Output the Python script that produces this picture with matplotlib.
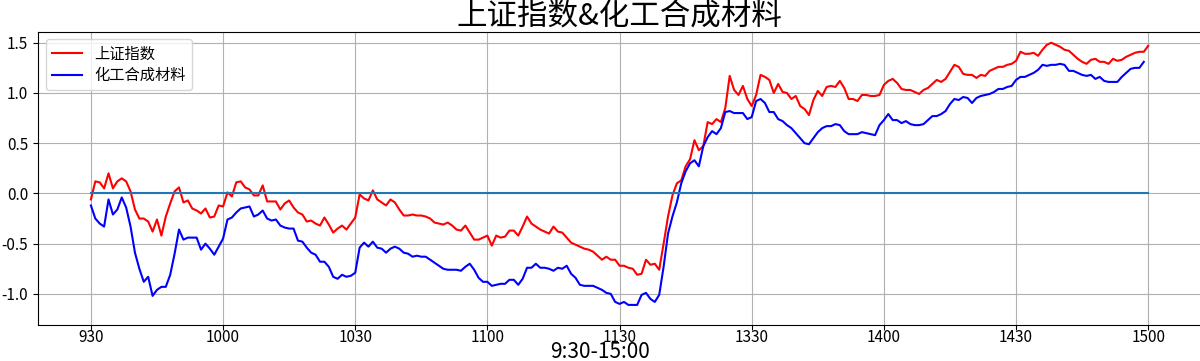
import numpy as np
import matplotlib
matplotlib.use("Agg")
import matplotlib.pyplot as plt

plt.rcParams['font.family'] = ['Noto Sans CJK SC', 'DejaVu Sans']
plt.rcParams['axes.unicode_minus'] = False

# === 1. Dados (variação % minuto a minuto, 9:30-15:00) ===
sh_index = [
    -0.06, 0.12, 0.11, 0.05, 0.20, 0.05, 0.12, 0.15, 0.12, 0.02,
    -0.16, -0.25, -0.25, -0.28, -0.38, -0.26, -0.42, -0.23, -0.10, 0.02,
    0.06, -0.09, -0.07, -0.15, -0.17, -0.20, -0.15, -0.24, -0.23, -0.12,
    -0.13, 0.01, -0.03, 0.11, 0.12, 0.06, 0.04, -0.02, -0.02, 0.08,
    -0.08, -0.08, -0.08, -0.16, -0.10, -0.07, -0.14, -0.19, -0.21, -0.28,
    -0.27, -0.30, -0.32, -0.24, -0.31, -0.39, -0.35, -0.32, -0.36, -0.30,
    -0.24, -0.01, -0.05, -0.07, 0.03, -0.06, -0.09, -0.12, -0.06, -0.09,
    -0.16, -0.22, -0.22, -0.21, -0.22, -0.22, -0.23, -0.25, -0.29, -0.30,
    -0.31, -0.29, -0.32, -0.36, -0.37, -0.32, -0.39, -0.46, -0.46, -0.44,
    -0.42, -0.52, -0.42, -0.44, -0.43, -0.37, -0.37, -0.42, -0.33, -0.23,
    -0.30, -0.33, -0.36, -0.38, -0.40, -0.33, -0.38, -0.39, -0.44, -0.49,
    -0.51, -0.53, -0.55, -0.56, -0.58, -0.62, -0.66, -0.63, -0.66, -0.66,
    -0.72, -0.72, -0.74, -0.75, -0.81, -0.80, -0.66, -0.71, -0.70, -0.76,
    -0.50, -0.23, -0.02, 0.10, 0.13, 0.27, 0.34, 0.53, 0.43, 0.47,
    0.71, 0.69, 0.74, 0.71, 0.85, 1.17, 1.03, 0.98, 1.07, 0.94,
    0.87, 0.98, 1.18, 1.16, 1.13, 1.00, 1.09, 1.01, 1.00, 0.94,
    0.97, 0.87, 0.84, 0.78, 0.93, 1.02, 0.97, 1.06, 1.07, 1.06,
    1.12, 1.05, 0.94, 0.94, 0.92, 0.98, 0.98, 0.97, 0.97, 0.98,
    1.08, 1.12, 1.14, 1.10, 1.04, 1.03, 1.03, 1.01, 0.99, 1.03,
    1.05, 1.09, 1.13, 1.11, 1.14, 1.21, 1.28, 1.26, 1.19, 1.18,
    1.18, 1.15, 1.18, 1.17, 1.22, 1.24, 1.26, 1.26, 1.28, 1.29,
    1.32, 1.41, 1.39, 1.39, 1.40, 1.37, 1.43, 1.48, 1.50, 1.48,
    1.46, 1.43, 1.42, 1.38, 1.34, 1.31, 1.29, 1.33, 1.34, 1.31,
    1.31, 1.29, 1.34, 1.32, 1.33, 1.36, 1.38, 1.40, 1.41, 1.41,
    1.47,
]

chem = [
    -0.12, -0.25, -0.30, -0.33, -0.06, -0.21, -0.16, -0.04, -0.14, -0.33,
    -0.59, -0.75, -0.88, -0.83, -1.02, -0.96, -0.93, -0.93, -0.81, -0.60,
    -0.36, -0.46, -0.44, -0.44, -0.44, -0.56, -0.50, -0.55, -0.61, -0.53,
    -0.45, -0.26, -0.24, -0.19, -0.15, -0.14, -0.13, -0.23, -0.21, -0.17,
    -0.25, -0.27, -0.26, -0.32, -0.34, -0.35, -0.35, -0.47, -0.48, -0.54,
    -0.59, -0.61, -0.68, -0.68, -0.73, -0.83, -0.85, -0.81, -0.83, -0.82,
    -0.79, -0.54, -0.49, -0.53, -0.48, -0.54, -0.55, -0.59, -0.55, -0.53,
    -0.55, -0.59, -0.60, -0.63, -0.62, -0.63, -0.63, -0.66, -0.69, -0.72,
    -0.75, -0.76, -0.76, -0.76, -0.77, -0.73, -0.70, -0.76, -0.84, -0.88,
    -0.88, -0.92, -0.91, -0.90, -0.90, -0.86, -0.86, -0.91, -0.85, -0.74,
    -0.74, -0.70, -0.74, -0.74, -0.75, -0.77, -0.74, -0.75, -0.72, -0.80,
    -0.84, -0.91, -0.92, -0.92, -0.92, -0.94, -0.96, -0.99, -1.00, -1.08,
    -1.10, -1.08, -1.11, -1.11, -1.11, -1.01, -0.99, -1.05, -1.08, -1.01,
    -0.73, -0.40, -0.23, -0.09, 0.10, 0.22, 0.30, 0.33, 0.27, 0.47,
    0.56, 0.62, 0.59, 0.65, 0.81, 0.82, 0.80, 0.80, 0.80, 0.74,
    0.76, 0.92, 0.94, 0.90, 0.81, 0.81, 0.74, 0.72, 0.68, 0.65,
    0.60, 0.55, 0.50, 0.49, 0.55, 0.61, 0.65, 0.67, 0.67, 0.69,
    0.68, 0.62, 0.59, 0.59, 0.59, 0.61, 0.60, 0.59, 0.58, 0.68,
    0.73, 0.79, 0.73, 0.73, 0.70, 0.72, 0.69, 0.68, 0.68, 0.69,
    0.73, 0.77, 0.77, 0.79, 0.82, 0.89, 0.94, 0.93, 0.96, 0.95,
    0.90, 0.95, 0.97, 0.98, 0.99, 1.01, 1.04, 1.04, 1.06, 1.07,
    1.13, 1.16, 1.16, 1.18, 1.20, 1.23, 1.28, 1.27, 1.28, 1.28,
    1.29, 1.28, 1.22, 1.22, 1.20, 1.18, 1.17, 1.18, 1.14, 1.16,
    1.12, 1.11, 1.11, 1.11, 1.16, 1.20, 1.24, 1.25, 1.25, 1.31,
]

tick_labels = ['930', '1000', '1030', '1100', '1130', '1330', '1400', '1430', '1500']

# === 2. Gráfico ===
fig = plt.figure(figsize=(12, 3.61), dpi=100)
ax = fig.add_axes([0.0317, 0.0997, 0.9692, 0.8125])

x_sh = np.arange(len(sh_index))
x_chem = np.arange(len(chem))
ax.plot(x_sh, sh_index, color='red', label='上证指数')
ax.plot(x_chem, chem, color='blue', label='化工合成材料')
ax.plot(x_sh, np.zeros(len(sh_index)), color='C0')

ax.set_xticks(x_sh[::30])
ax.set_xticklabels(tick_labels)
ax.tick_params(labelsize=11)
ax.tick_params(axis='x', pad=-0.5)
ax.set_xlim(-12, 252)
ax.set_ylim(-1.31, 1.61)
ax.grid(True)
ax.legend(loc='upper left', fontsize=11, labelspacing=0.3)
ax.set_title('上证指数&化工合成材料', fontsize=22, pad=2)

# rótulo do eixo x junto à borda inferior
fig.text(0.5, 2.5 / 361, '9:30-15:00', fontsize=15, ha='center', va='baseline')

fig.savefig('out.png', dpi=100)
